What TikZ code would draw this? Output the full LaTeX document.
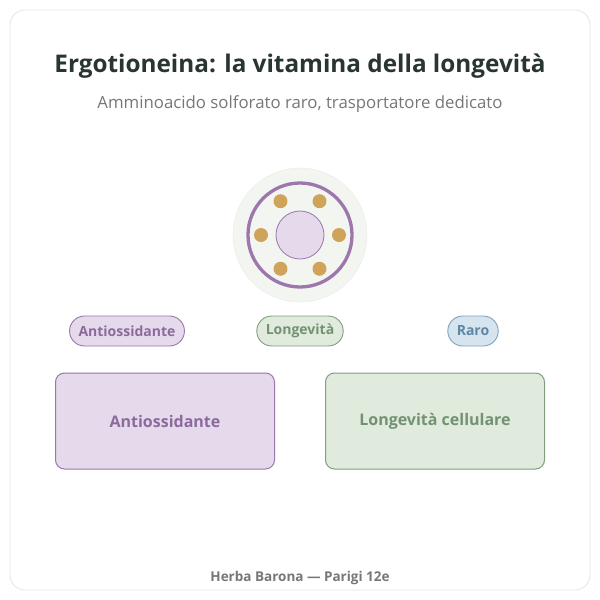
\documentclass[tikz,border=0pt]{standalone}
\usepackage{fontspec}
\usetikzlibrary{calc}
\setmainfont{Open Sans}
\begin{document}
\begin{tikzpicture}[x=1pt,y=-1pt,
pill/.style={draw,rounded corners=15pt,line width=0.9pt,minimum height=30pt,font=\bfseries\fontsize{14}{16}\selectfont,inner xsep=9pt},
box/.style={draw,rounded corners=9pt,line width=1pt,minimum width=219pt,minimum height=96pt,font=\bfseries\fontsize{16}{19}\selectfont},
dot/.style={fill=dotc,draw=none,circle,minimum size=14pt,inner sep=0pt}]
\definecolor{pu}{HTML}{9C76AC}\definecolor{puf}{HTML}{E4DAEC}\definecolor{put}{HTML}{8C6A9C}
\definecolor{gr}{HTML}{7F9F7F}\definecolor{grf}{HTML}{E0EBDD}\definecolor{grt}{HTML}{739273}
\definecolor{bl}{HTML}{7FA3BD}\definecolor{blf}{HTML}{D5E4EE}\definecolor{blt}{HTML}{5F86A4}
\definecolor{dotc}{HTML}{CFA35A}\definecolor{bgf}{HTML}{F3F5F1}\definecolor{bgd}{HTML}{E6EBE4}
\useasboundingbox (0,0) rectangle (600,600);
\draw[draw=black!10,fill=white,rounded corners=15pt,line width=0.8pt] (10,10) rectangle (590,590);
\node (t) at (300,66) {\bfseries\fontsize{24.3}{28}\selectfont\color[HTML]{283530}Ergotioneina: la vitamina della longevità};
\node (s) at (300,104) {\fontsize{16.8}{20}\selectfont\color[HTML]{777777}Amminoacido solforato raro, trasportatore dedicato};
\node[circle,fill=bgf,draw=bgd,minimum size=134pt] (bg) at (300,235) {};
\node[circle,draw=pu,line width=3.3pt,minimum size=104pt] (ring) at (300,235) {};
\node[circle,draw=pu,fill=puf,line width=0.8pt,minimum size=48pt] (core) at (300,235) {};
\foreach \a/\n in {0/d1,60/d2,120/d3,180/d4,240/d5,300/d6}
  \node[dot] (\n) at ($(300,235)+(\a:39)$) {};
\node[pill,draw=pu,fill=puf,text=put] (p1) at (127,331) {Antiossidante};
\node[pill,draw=gr,fill=grf,text=grt] (p2) at (300,331) {Longevità};
\node[pill,draw=bl,fill=blf,text=blt] (p3) at (473,331) {Raro};
\node[box,draw=pu,fill=puf,text=put] (b1) at (165,421) {Antiossidante};
\node[box,draw=gr,fill=grf,text=grt] (b2) at (435,421) {Longevità cellulare};
\node (f) at (300,578) {\bfseries\fontsize{13.5}{16}\selectfont\color[HTML]{777777}Herba Barona — Parigi 12e};
\end{tikzpicture}
\end{document}
